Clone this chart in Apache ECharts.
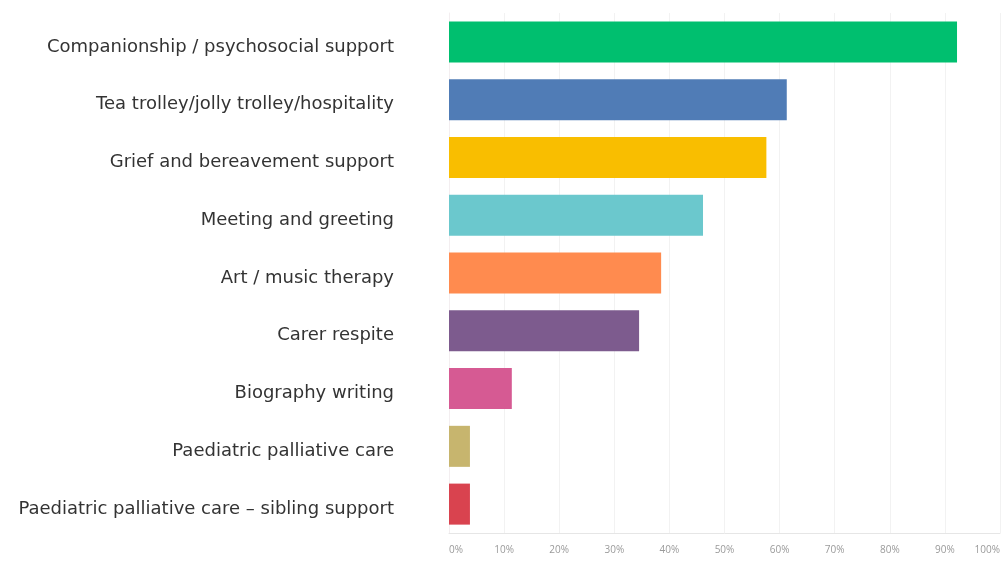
<!DOCTYPE html>
<html>
<head>
<meta charset="utf-8">
<script src="https://cdn.jsdelivr.net/npm/echarts@6/dist/echarts.min.js"></script>
<style>
  html, body { margin: 0; padding: 0; background: #fff; }
  #chart { width: 1003px; height: 561px; }
</style>
</head>
<body>
<div id="chart"></div>
<script>
// 数据
var categories = [
  "Companionship / psychosocial support",
  "Tea trolley/jolly trolley/hospitality",
  "Grief and bereavement support",
  "Meeting and greeting",
  "Art / music therapy",
  "Carer respite",
  "Biography writing",
  "Paediatric palliative care",
  "Paediatric palliative care – sibling support"
];
var values = [92.2, 61.3, 57.6, 46.1, 38.5, 34.5, 11.4, 3.8, 3.8];
var tickLabels = ["0%", "10%", "20%", "30%", "40%", "50%", "60%", "70%", "80%", "90%", "100%"];

// 每个柱子的颜色
var colorList = [
  "#00bf6f",
  "#507cb6",
  "#f9be00",
  "#6bc8cd",
  "#ff8b4f",
  "#7d5b8e",
  "#d65a93",
  "#c7b56e",
  "#d9434f"
];

var chart = echarts.init(document.getElementById("chart"));

var option = {
  backgroundColor: "#ffffff",
  animation: false,
  grid: {
    left: 449,
    right: 3,
    top: 13,
    bottom: 28,
    containLabel: false
  },
  xAxis: {
    type: "value",
    min: 0,
    max: 100,
    interval: 10,
    axisLine: {
      show: true,
      lineStyle: { color: "#e6e6e6", width: 1 }
    },
    axisTick: { show: false },
    splitLine: {
      show: true,
      lineStyle: { color: "#f2f2f2", width: 1 }
    },
    axisLabel: {
      color: "#9a9a9a",
      fontSize: 10,
      fontFamily: "Open Sans",
      margin: 12,
      alignMinLabel: "left",
      alignMaxLabel: "right",
      formatter: function (v) {
        return tickLabels[Math.round(v / 10)];
      }
    }
  },
  yAxis: {
    type: "category",
    inverse: true,
    data: categories,
    axisLine: {
      show: true,
      lineStyle: { color: "#f3eef0", width: 1 }
    },
    axisTick: { show: false },
    axisLabel: {
      color: "#333333",
      fontSize: 18,
      fontFamily: "DejaVu Sans",
      margin: 55,
      verticalAlign: "top",
      lineHeight: 10
    }
  },
  series: [
    {
      type: "bar",
      data: values,
      barCategoryGap: "29%",
      itemStyle: {
        color: function (params) {
          return colorList[params.dataIndex % colorList.length];
        }
      }
    }
  ]
};

chart.setOption(option);
</script>
</body>
</html>
